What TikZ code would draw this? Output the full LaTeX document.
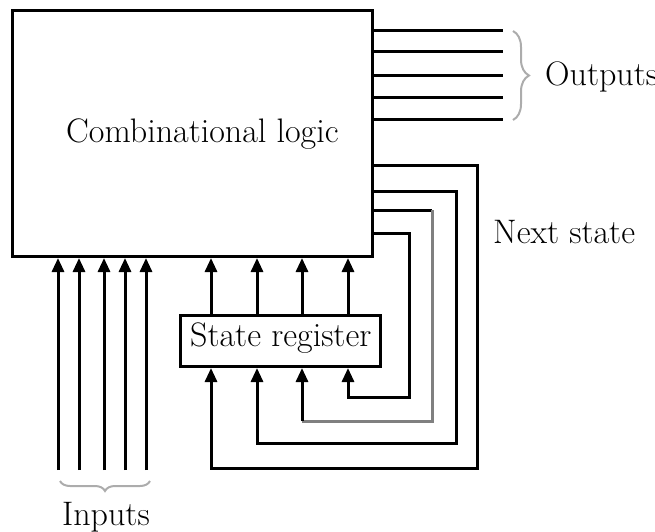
\documentclass[tikz,border=0pt]{standalone}
\usetikzlibrary{arrows.meta,decorations.pathreplacing}
\begin{document}
\begin{tikzpicture}[x=1pt,y=-1pt,
  wire/.style={line width=3pt},
  feed/.style={wire,-{Triangle[width=12pt,length=14pt]}},
  block/.style={draw,line width=3pt,inner sep=0pt},
  lbl/.style={anchor=base west,inner sep=0pt,font=\fontsize{34}{40}\selectfont},
  bracket/.style={draw=gray!65,line width=2pt,decorate}]
\useasboundingbox (0,0) rectangle (655,532);

% blocks
\node[block,minimum width=360pt,minimum height=246pt] (logic) at (192.25,133.5) {};
\node[lbl] (logictxt) at (66,142) {Combinational logic};
\node[block,minimum width=200pt,minimum height=51.5pt] (reg) at (280,340.75) {};
\node[lbl] (regtxt) at (190,346) {State register};

% primary inputs
\foreach \i/\x in {1/58,2/79,3/104,4/125,5/146}{
  \coordinate (in\i) at (\x,470);
  \draw[feed] (in\i) -- (in\i |- logic.south);
}
\draw[bracket,decoration={brace,amplitude=10pt}] (150,481) -- (60,481);
\node[lbl] (inputs) at (62,525) {Inputs};

% outputs
\foreach \i/\y in {1/31,2/52,3/76,4/98,5/119}{
  \coordinate (out\i) at (503,\y);
  \draw[wire] (logic.east |- out\i) -- (out\i);
}
\draw[bracket,decoration={brace,amplitude=16pt}] (513,31) -- (513,120);
\node[lbl] (outputs) at (545,86) {Outputs};

% register outputs back into the logic
\foreach \i/\x in {1/211,2/257,3/302,4/348}{
  \coordinate (q\i) at (\x,0);
  \draw[feed] (q\i |- reg.north) -- (q\i |- logic.south);
}

% next-state feedback loops
\coordinate (n1) at (477,165); \coordinate (m1) at (211,468);
\coordinate (n2) at (456,191); \coordinate (m2) at (257,443);
\coordinate (n3) at (432,210); \coordinate (m3) at (302,421);
\coordinate (n4) at (409,233); \coordinate (m4) at (348,397);
\foreach \i in {1,2,4}{
  \draw[feed] (logic.east |- n\i) -- (n\i) |- (m\i) -- (m\i |- reg.south);
}
\draw[wire] (logic.east |- n3) -- (n3);
\draw[wire,draw=gray] (n3) |- (m3);
\draw[feed] (m3) -- (m3 |- reg.south);
\node[lbl] (next) at (493,243) {Next state};
\end{tikzpicture}
\end{document}
